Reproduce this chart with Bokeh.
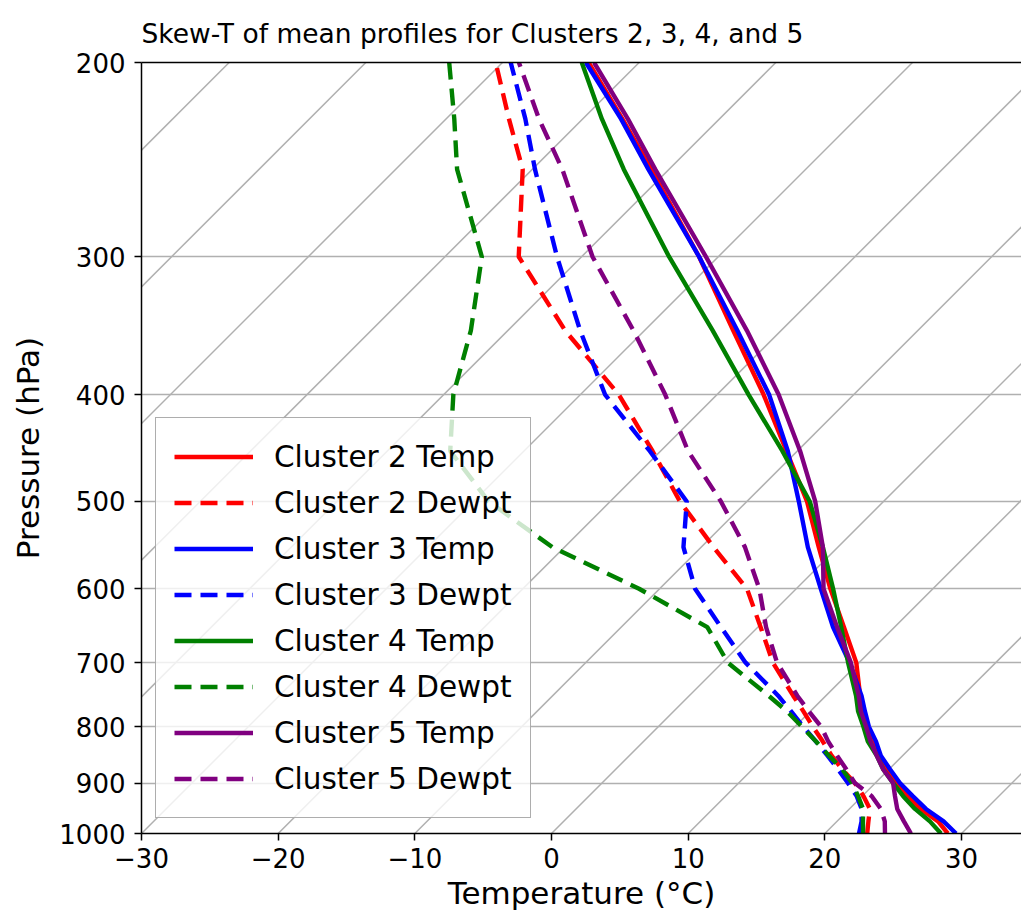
import numpy as np
from bokeh.plotting import figure
from bokeh.models import Range1d, FixedTicker, Legend, LegendItem, LinearAxis
from bokeh.embed import file_html
from bokeh.resources import INLINE

# ---------------- data (real temperatures, degC) ----------------
pressure = [1000, 975, 950, 925, 900, 875, 850, 825, 800, 775, 750, 700,
            650, 600, 550, 500, 450, 400, 350, 300, 250, 225, 200]

c2_temp = [29.0, 27.4, 25.2, 23.3, 21.6, 19.9, 18.2, 16.7, 15.2, 13.8, 12.5, 9.8,
           6.3, 2.5, -1.4, -5.6, -10.8, -16.6, -23.5, -31.4, -41.3, -47.1, -53.7]
c2_dewpt = [23.1, 22.3, 21.5, 20.1, 18.5, 16.6, 14.8, 13.1, 11.3, 9.5, 7.6, 3.7,
            0.2, -3.6, -9.1, -14.9, -20.6, -27.2, -35.8, -44.6, -50.7, -55.4, -60.5]
c3_temp = [29.6, 27.8, 25.6, 23.7, 21.8, 20.1, 18.4, 17.0, 15.4, 14.0, 12.6, 9.3,
           5.5, 1.8, -2.2, -6.2, -10.7, -16.2, -23.2, -31.4, -41.5, -47.2, -53.9]
c3_dewpt = [22.5, 21.8, 20.9, 19.6, 18.0, 16.3, 14.5, 12.6, 10.6, 8.6, 6.5, 1.7,
            -2.7, -7.4, -11.3, -14.4, -20.8, -28.2, -34.7, -41.8, -49.8, -54.2, -59.4]
c4_temp = [28.5, 26.8, 24.8, 23.0, 21.3, 19.6, 18.1, 16.4, 15.0, 13.5, 12.2, 9.2,
           6.1, 2.7, -1.1, -5.4, -11.1, -17.7, -25.0, -33.6, -43.3, -48.6, -54.2]
c4_dewpt = [22.8, 21.9, 21.0, 19.7, 18.3, 16.6, 14.6, 12.6, 10.5, 8.3, 5.8, 0.4,
            -3.7, -11.5, -20.9, -28.9, -35.4, -39.3, -42.7, -47.3, -55.5, -59.4, -63.9]
c5_temp = [26.3, 24.9, 23.5, 22.4, 21.3, 19.6, 18.1, 16.6, 15.2, 13.7, 12.4, 9.4,
           5.8, 2.0, -1.1, -5.0, -9.8, -15.5, -22.5, -30.9, -41.0, -46.7, -53.3]
c5_dewpt = [24.4, 23.5, 22.3, 20.7, 18.5, 16.9, 15.2, 13.5, 11.9, 9.9, 7.9, 4.0,
            0.6, -2.7, -6.8, -11.9, -18.0, -23.8, -30.8, -39.2, -47.8, -53.2, -58.8]

clusters = ["2", "3", "4", "5"]
colors = ["red", "blue", "green", "purple"]
temps = [c2_temp, c3_temp, c4_temp, c5_temp]
dewpts = [c2_dewpt, c3_dewpt, c4_dewpt, c5_dewpt]

x_ticks = [-30, -20, -10, 0, 10, 20, 30]
p_ticks = [200, 300, 400, 500, 600, 700, 800, 900, 1000]

# ---------------- geometry ----------------
FRAME_W, FRAME_H = 880, 771
X_MIN, X_MAX = -30.0, 34.39
P_BOT, P_TOP = 1000.0, 200.0
px_per_deg = FRAME_W / (X_MAX - X_MIN)
px_per_ln = FRAME_H / np.log(P_BOT / P_TOP)
K = px_per_ln / px_per_deg  # degC of skew per ln(p) unit -> 45 deg isotherms


def skew(t, p):
    return np.asarray(t, float) + K * np.log(P_BOT / np.asarray(p, float))


FONT = "DejaVu Sans"

p = figure(frame_width=FRAME_W, frame_height=FRAME_H,
           min_border_left=141, min_border_right=0,
           min_border_top=62, min_border_bottom=88,
           x_range=Range1d(X_MIN, X_MAX), y_range=Range1d(P_BOT, P_TOP),
           y_axis_type="log", output_backend="svg", toolbar_location=None,
           title="Skew-T of mean profiles for Clusters 2, 3, 4, and 5")
p.outline_line_color = None
p.background_fill_color = "white"
p.border_fill_color = "white"

p.title.align = "left"
p.title.text_font = FONT
p.title.text_font_size = "26.5px"
p.title.text_font_style = "normal"
p.title.text_color = "black"
p.title.standoff = 27

xax = p.below[0]
yax = p.left[0]

# grid
p.xgrid.visible = False
p.ygrid.ticker = FixedTicker(ticks=p_ticks)
p.ygrid.grid_line_color = "#b0b0b0"
p.ygrid.grid_line_width = 1.6

# skewed isotherm grid lines
iso = np.arange(-120, 40, 10)
p.segment(x0=skew(iso, [P_BOT] * len(iso)), y0=[P_BOT] * len(iso),
          x1=skew(iso, [P_TOP] * len(iso)), y1=[P_TOP] * len(iso),
          line_color="#b0b0b0", line_width=1.5)

# axes styling
for ax in (xax, yax):
    ax.axis_line_width = 1.5
    ax.axis_line_color = "black"
    ax.major_tick_line_width = 1.5
    ax.major_tick_line_color = "black"
    ax.major_tick_in = 0
    ax.major_tick_out = 7
    ax.minor_tick_line_color = None
    ax.major_label_text_font = FONT
    ax.major_label_text_font_size = "26px"
    ax.major_label_text_color = "black"
    ax.axis_label_text_font = FONT
    ax.axis_label_text_font_size = "31px"
    ax.axis_label_text_font_style = "normal"
    ax.axis_label_text_color = "black"

xax.ticker = FixedTicker(ticks=x_ticks)
xax.major_label_overrides = {t: (("\u2212" + str(-t)) if t < 0 else str(t)) for t in x_ticks}
xax.major_label_standoff = 7
xax.axis_label = "Temperature (\u00b0C)"
xax.axis_label_standoff = 4

yax.ticker = FixedTicker(ticks=p_ticks)
yax.major_label_overrides = {t: str(t) for t in p_ticks}
yax.major_label_standoff = 9
yax.axis_label = "Pressure (hPa)"
yax.axis_label_standoff = 10

# top spine
top = LinearAxis(ticker=FixedTicker(ticks=[]), major_label_text_font_size="0px",
                 axis_line_width=1.5, axis_line_color="black",
                 major_tick_line_color=None, minor_tick_line_color=None,
                 major_tick_out=0, major_tick_in=0, major_label_standoff=0,
                 axis_label=None)
p.add_layout(top, "above")

# profiles
items = []
for name, col, t, td in zip(clusters, colors, temps, dewpts):
    r1 = p.line(skew(t, pressure), pressure, line_color=col, line_width=4.4)
    r2 = p.line(skew(td, pressure), pressure, line_color=col, line_width=4.4,
                line_dash="17 9")
    items.append(LegendItem(label=f"Cluster {name} Temp", renderers=[r1]))
    items.append(LegendItem(label=f"Cluster {name} Dewpt", renderers=[r2]))

legend = Legend(items=items, location=(14, 15), margin=0,
                padding=18, spacing=5, glyph_width=79, glyph_height=41,
                label_height=41, label_standoff=21,
                label_text_font=FONT, label_text_font_size="29.5px",
                label_text_color="black",
                border_line_color="#999999", border_line_width=1.5,
                border_line_alpha=0.8,
                background_fill_color="white", background_fill_alpha=0.8)
p.add_layout(legend, "center")

open("out.html", "w").write(file_html(p, INLINE))
